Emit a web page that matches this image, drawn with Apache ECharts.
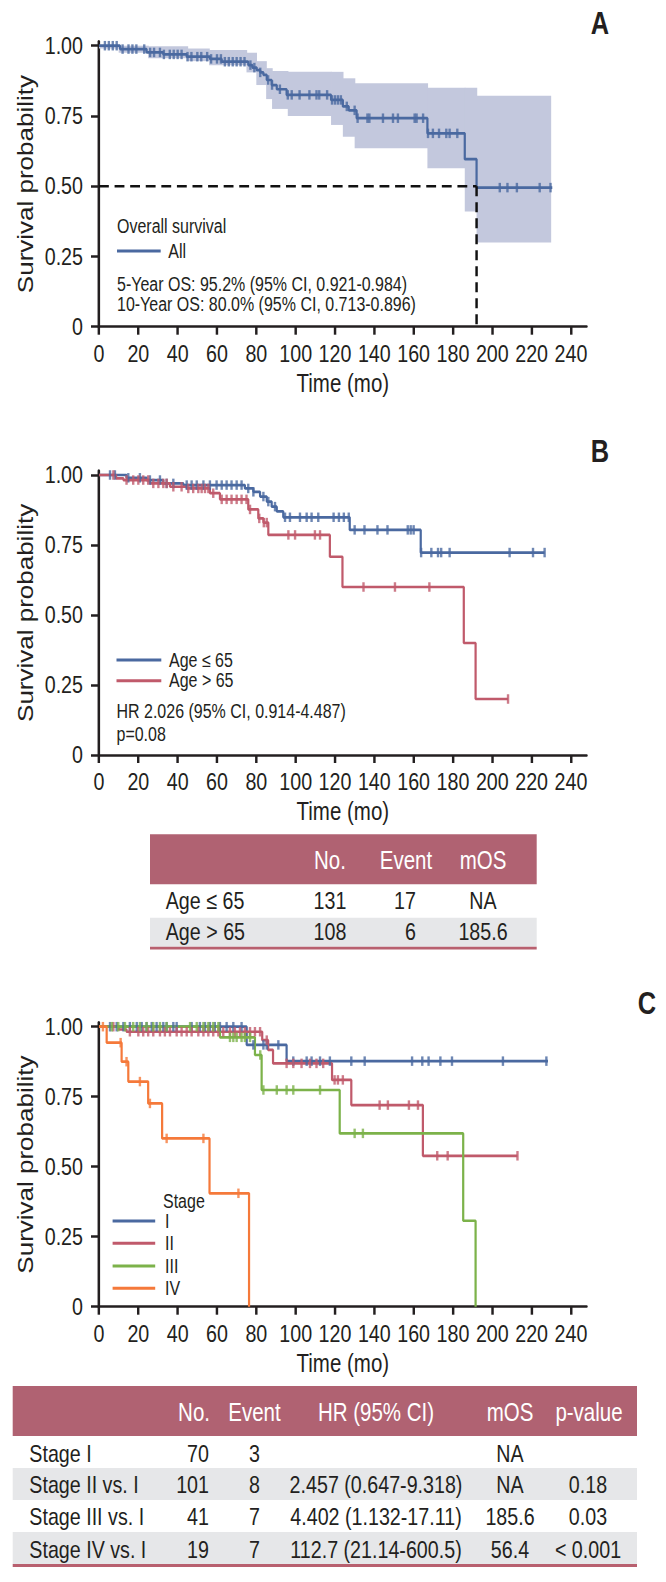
<!DOCTYPE html>
<html><head><meta charset="utf-8">
<script src="https://cdn.jsdelivr.net/npm/echarts@6/dist/echarts.min.js"></script>
<style>
html,body{margin:0;padding:0;background:#fff;width:666px;height:1582px;overflow:hidden}
#c{width:812px;height:1582px;transform:scaleX(0.820197);transform-origin:0 0}
</style>
</head><body><div id="c"></div>
<script>
// ---------------- data ----------------
const xTicks = [0,20,40,60,80,100,120,140,160,180,200,220,240];
const yTicks = [0,0.25,0.5,0.75,1];

// Panel A: overall survival
const aTimes = [0,10.7,24.2,32.7,44.6,56.4,62.4,75.9,78,80.2,82,83.6,85.3,87.8,90.4,95.4,118,124,127,131,167,186,192,230.5];
const aSurv  = [1,0.988,0.976,0.969,0.961,0.953,0.943,0.931,0.922,0.913,0.905,0.896,0.878,0.86,0.845,0.825,0.807,0.784,0.77,0.742,0.688,0.596,0.495,0.495];
const aCensor = [3,5,7,9,12,15,17,19,23,26,28,31,33,36,38,40,42,45,47,50,52,55,57,60,62,64,66,68,70,72,74,77,79,82,86,88,92,96,98,102,107,110.6,112,116,118.5,120,121.5,123,126,130,131.5,136.5,137.5,144.4,149.5,152,160.5,161.5,164.8,167.3,169.8,172.9,176.6,178.3,182.2,203.8,207.7,212.5,224.1,229.6];
const bandT   = [0,10,25,45,56,75,80,85,88,96,118,124,130,167,186,192,229.6];
const bandLow = [0.99,0.975,0.955,0.945,0.93,0.905,0.86,0.81,0.775,0.75,0.718,0.676,0.635,0.564,0.41,0.30];
const bandUp  = [1.0,1.0,0.998,0.99,0.985,0.975,0.945,0.92,0.91,0.907,0.907,0.884,0.866,0.85,0.85,0.822];
const medianA = 192;

// Panel B: age
const bBlueTimes = [0,14,24.2,32.7,42.9,74.2,78.5,81.9,85.3,87.8,90.4,93.7,127.5,163.6,226.6];
const bBlueSurv  = [1,0.99,0.982,0.97,0.964,0.952,0.94,0.923,0.905,0.887,0.87,0.849,0.804,0.723,0.723];
const bBlueCensor = [5.6,8.1,14.9,20.8,25.9,31,34.4,37.8,44.6,47.1,49.7,53.1,56.4,59.8,62.4,64.9,67.4,70,72.5,75.9,78.5,83.6,86.1,89.5,94.6,97.1,102.2,105.6,108.1,111.5,119.3,122,124.5,127,130,135,141.6,146.7,157,158.5,160,163.8,169,172.4,174,178.3,208.8,220.7,226.6];
const bRedTimes = [0,8.7,12.4,25.9,36.1,44.6,56.4,61.5,75.9,81,83.6,86.1,117.4,123.8,185.5,191.5,208];
const bRedSurv  = [1,0.988,0.982,0.97,0.958,0.952,0.935,0.913,0.877,0.845,0.83,0.786,0.708,0.60,0.40,0.20,0.20];
const bRedCensor = [7.3,14,17.4,20,22.5,25,27.6,30.2,32.7,34.4,37.8,42,45.4,47.9,50.5,52.2,53.9,55.6,58.1,62.4,64.9,67.4,70,72.5,75,76.8,81.5,83.8,85.3,96.3,99.7,109.8,112.4,134.5,150.5,168,208];

// Panel C: stage
const cITimes = [0,75.1,95.4,228.3];
const cISurv  = [1,0.935,0.877,0.877];
const cICensor = [5.6,9,12.4,15.7,19.2,21.7,24.2,26.8,29.3,32.7,34.4,37.8,39.5,47.1,51.3,53.9,56.4,58.9,61.5,64.9,68.3,72.5,78.5,83.6,85.3,91.2,98.8,105.6,108.1,112.4,117.4,128.3,135.1,159.2,164.4,167.6,173.6,179.5,205.4,227.5];
const cIITimes = [0,10,14,83,86,88.5,118.5,128.3,164.7,212.8];
const cIISurv  = [1,0.99,0.982,0.952,0.917,0.869,0.81,0.72,0.539,0.539];
const cIICensor = [7.3,15.7,20,22.5,25,27.6,31,33.5,36.1,39.5,42,44.6,47.1,50.5,53.1,55.6,58.1,60.7,63.2,66.6,69.1,71.7,74.2,76.8,79.3,81.9,85.3,95.4,98.8,103,107.3,110.6,114,119.8,121.5,124,142.7,146.9,157.6,162.2,172,177.3,212.8];
const cIIITimes = [0,61.5,79.3,82.7,122.4,185.2,191.5];
const cIIISurv  = [1,0.962,0.899,0.774,0.619,0.307,0];
const cIIICensor = [6.5,9.8,13.2,17.4,20.8,24.2,27.6,31,34.4,46.3,49.7,53.1,55.6,58.1,60.7,66.6,68.3,70,72.5,74.2,76.8,82,83.6,90.4,95.4,98.8,112.4,130,134.2];
const cIVTimes = [0,3.9,11.5,14.9,25,32.1,56.2,76.3];
const cIVSurv  = [1,0.943,0.875,0.804,0.726,0.601,0.405,0];
const cIVCensor = [2,11,14,20.8,25.9,34.4,53.1,70.9];

// Tables
const tableBHeader = ['No.','Event','mOS'];
const tableBRows = ['Age \u2264 65','Age > 65'];
const tableBNo = ['131','108'];
const tableBEvent = ['17','6'];
const tableBmOS = ['NA','185.6'];
const tableCHeader = ['No.','Event','HR (95% CI)','mOS','p-value'];
const tableCRows = ['Stage I','Stage II vs. I','Stage III vs. I','Stage IV vs. I'];
const tableCNo = ['70','101','41','19'];
const tableCEvent = ['3','8','7','7'];
const tableCHR = ['','2.457 (0.647-9.318)','4.402 (1.132-17.11)','112.7 (21.14-600.5)'];
const tableCmOS = ['NA','NA','185.6','56.4'];
const tableCP = ['','0.18','0.03','< 0.001'];

// ---------------- style ----------------
// the page is drawn 812px wide and condensed horizontally to 666px (condensed type face look)
const SX = 666/812;
function X(px){ return px/SX; }
const FONT = "'Liberation Sans',Arial,sans-serif";
const INK = '#231F20';
const C_BLUE = '#4A69A0', C_RED = '#C05A6B', C_GREEN = '#7CB24A', C_ORANGE = '#F5793A';
const C_BAND = '#C3C8DD', C_HEAD = '#B06272', C_GRAY = '#E6E7E9', C_LINE = '#B8606F';
const YMAX = 1.015;

function survAt(times, surv, t){ let v = surv[0]; for(let i=0;i<times.length;i++){ if(times[i] <= t) v = surv[i]; } return v; }
function zip(a,b){ return a.map((v,i)=>[v,b[i]]); }

// grid: y=0 at bottom, 1.0 at given pixel, axis extends slightly above 1.0
function gridFor(y0, y1){ const unit = y0 - y1; const h = unit*YMAX; return {left:X(99), top:y0-h, width:X(487.7), height:h}; }
const grids = [gridFor(326.7,45.7), gridFor(755,475), gridFor(1306.7,1026.7)];

function xAx(i){ return {gridIndex:i, type:'value', min:0, max:248, interval:20,
  name:'Time (mo)', nameLocation:'middle', nameGap:44,
  nameTextStyle:{fontFamily:FONT, fontSize:25, color:INK},
  axisLine:{show:true, onZero:false, lineStyle:{color:INK, width:2.5}},
  axisTick:{show:true, length:8, lineStyle:{color:INK, width:3}, customValues:xTicks},
  axisLabel:{fontFamily:FONT, fontSize:24, color:INK, margin:15, customValues:xTicks, showMinLabel:true, showMaxLabel:true},
  splitLine:{show:false}}; }
function yAx(i){ return {gridIndex:i, type:'value', min:0, max:YMAX,
  name:'Survival probability', nameLocation:'middle', nameGap:X(57),
  nameTextStyle:{fontFamily:FONT, fontSize:26, color:INK},
  axisLine:{show:true, lineStyle:{color:INK, width:3.1}},
  axisTick:{show:true, length:X(8), lineStyle:{color:INK, width:2.5}, customValues:yTicks},
  axisLabel:{fontFamily:FONT, fontSize:24, color:INK, margin:X(16), customValues:yTicks, showMinLabel:true, showMaxLabel:true, formatter:v=>v===0?'0':v.toFixed(2)},
  splitLine:{show:false}}; }

function curve(k, name, times, surv, color){
  return {type:'line', name, xAxisIndex:k, yAxisIndex:k, step:'end', data:zip(times,surv),
    showSymbol:false, symbol:'none', clip:false, z:3, lineStyle:{color, width:2.7}, silent:true};
}
function censor(k, times, surv, cens, color){
  return {type:'scatter', xAxisIndex:k, yAxisIndex:k, data:cens.map(t=>[t, survAt(times,surv,t)]),
    symbol:'rect', symbolSize:[X(2.4),9.5], itemStyle:{color}, clip:false, z:4, silent:true};
}

const series = [];
series.push({type:'custom', xAxisIndex:0, yAxisIndex:0, z:1, silent:true, clip:false,
  data: bandLow.map((l,i)=>[bandT[i], bandT[i+1], l, bandUp[i]]),
  encode:{x:[0,1], y:[2,3]},
  renderItem:(params, api)=>{
    const p1 = api.coord([api.value(0), api.value(3)]);
    const p2 = api.coord([api.value(1), api.value(2)]);
    return {type:'rect', shape:{x:p1[0], y:p1[1], width:p2[0]-p1[0]+0.8, height:p2[1]-p1[1]}, style:{fill:C_BAND}};
  }});
series.push({type:'line', xAxisIndex:0, yAxisIndex:0, data:[[0,0.5],[medianA,0.5]], showSymbol:false, symbol:'none', z:5, silent:true, clip:false,
  lineStyle:{color:'#111', width:2.5, type:[12,7]}});
series.push({type:'line', xAxisIndex:0, yAxisIndex:0, data:[[medianA,0.5],[medianA,0]], showSymbol:false, symbol:'none', z:5, silent:true, clip:false,
  lineStyle:{color:'#111', width:3, type:[10,6]}});
series.push(curve(0,'All',aTimes,aSurv,C_BLUE), censor(0,aTimes,aSurv,aCensor,C_BLUE));
series.push(curve(1,'Age \u2264 65',bBlueTimes,bBlueSurv,C_BLUE), censor(1,bBlueTimes,bBlueSurv,bBlueCensor,C_BLUE));
series.push(curve(1,'Age > 65',bRedTimes,bRedSurv,C_RED), censor(1,bRedTimes,bRedSurv,bRedCensor,C_RED));
series.push(curve(2,'I',cITimes,cISurv,C_BLUE), censor(2,cITimes,cISurv,cICensor,C_BLUE));
series.push(curve(2,'II',cIITimes,cIISurv,C_RED), censor(2,cIITimes,cIISurv,cIICensor,C_RED));
series.push(curve(2,'III',cIIITimes,cIIISurv,C_GREEN), censor(2,cIIITimes,cIIISurv,cIIICensor,C_GREEN));
series.push(curve(2,'IV',cIVTimes,cIVSurv,C_ORANGE), censor(2,cIVTimes,cIVSurv,cIVCensor,C_ORANGE));

// ---------------- graphics: labels, legends, tables ----------------
const G = [];
function txt(x,y,text,o){ o=o||{}; G.push({type:'text', x:X(x), y, silent:true, z:10, style:{text, fill:o.fill||INK, fontFamily:FONT, fontSize:o.size||24, fontWeight:o.weight||'normal', align:o.align||'left', verticalAlign:'middle'}}); }
function rect(x,y,w,h,fill){ G.push({type:'rect', silent:true, z:9, shape:{x:X(x),y,width:X(w),height:h}, style:{fill}}); }
function seg(x1,x2,y,color){ G.push({type:'line', silent:true, z:10, shape:{x1:X(x1),y1:y,x2:X(x2),y2:y}, style:{stroke:color, lineWidth:3}}); }

// panel letters
txt(600,23,'A',{size:31,weight:'bold',align:'center'});
txt(600,451,'B',{size:31,weight:'bold',align:'center'});
txt(647,1003,'C',{size:31,weight:'bold',align:'center'});

// legend A
const LS = 19.5;
txt(117,226.7,'Overall survival',{size:LS});
seg(117,160.7,251,C_BLUE); txt(168.3,251,'All',{size:LS});
txt(117,284,'5-Year OS: 95.2% (95% CI, 0.921-0.984)',{size:LS});
txt(117,304,'10-Year OS: 80.0% (95% CI, 0.713-0.896)',{size:LS});

// legend B
seg(116.5,161.3,660,C_BLUE); txt(169,660,tableBRows[0],{size:LS});
seg(116.5,161.3,680.7,C_RED); txt(169,680.7,tableBRows[1],{size:LS});
txt(116.5,711.7,'HR 2.026 (95% CI, 0.914-4.487)',{size:LS});
txt(116.5,734,'p=0.08',{size:LS});

// legend C
txt(163,1201,'Stage',{size:LS});
const cNames = ['I','II','III','IV'], cCols = [C_BLUE,C_RED,C_GREEN,C_ORANGE], cLegY = [1221,1243.3,1266,1288.3];
cNames.forEach((n,i)=>{ seg(112.6,155.2,cLegY[i],cCols[i]); txt(165,cLegY[i],n,{size:LS}); });

// table B
rect(150,834.3,386.7,50,C_HEAD);
rect(150,917.7,386.7,29,C_GRAY);
rect(150,946.7,386.7,2.8,C_LINE);
txt(330,860,tableBHeader[0],{fill:'#fff',align:'center',size:25});
txt(406,860,tableBHeader[1],{fill:'#fff',align:'center',size:25});
txt(483,860,tableBHeader[2],{fill:'#fff',align:'center',size:25});
const bRowY = [901,932];
tableBRows.forEach((r,i)=>{
  txt(165.7,bRowY[i],r);
  txt(330,bRowY[i],tableBNo[i],{align:'center'});
  txt(416,bRowY[i],tableBEvent[i],{align:'right'});
  txt(483,bRowY[i],tableBmOS[i],{align:'center'});
});

// table C
rect(12.7,1386,624.3,50,C_HEAD);
rect(12.7,1468,624.3,32,C_GRAY);
rect(12.7,1532,624.3,32,C_GRAY);
rect(12.7,1564,624.3,3,C_LINE);
txt(210,1412,tableCHeader[0],{fill:'#fff',align:'right',size:25});
txt(254.5,1412,tableCHeader[1],{fill:'#fff',align:'center',size:25});
txt(376,1412,tableCHeader[2],{fill:'#fff',align:'center',size:25});
txt(510,1412,tableCHeader[3],{fill:'#fff',align:'center',size:25});
txt(589,1412,tableCHeader[4],{fill:'#fff',align:'center',size:25});
const cRowY = [1453.5,1485,1517,1549.5];
tableCRows.forEach((r,i)=>{
  txt(29.3,cRowY[i],r);
  txt(209,cRowY[i],tableCNo[i],{align:'right'});
  txt(254.5,cRowY[i],tableCEvent[i],{align:'center'});
  txt(376,cRowY[i],tableCHR[i],{align:'center'});
  txt(510,cRowY[i],tableCmOS[i],{align:'center'});
  txt(588,cRowY[i],tableCP[i],{align:'center'});
});

const chart = echarts.init(document.getElementById('c'), null, {renderer:'svg', width:812, height:1582});
chart.setOption({
  animation:false,
  backgroundColor:'#fff',
  grid: grids,
  xAxis: [xAx(0), xAx(1), xAx(2)],
  yAxis: [yAx(0), yAx(1), yAx(2)],
  series,
  graphic: {elements: G}
});
</script></body></html>
